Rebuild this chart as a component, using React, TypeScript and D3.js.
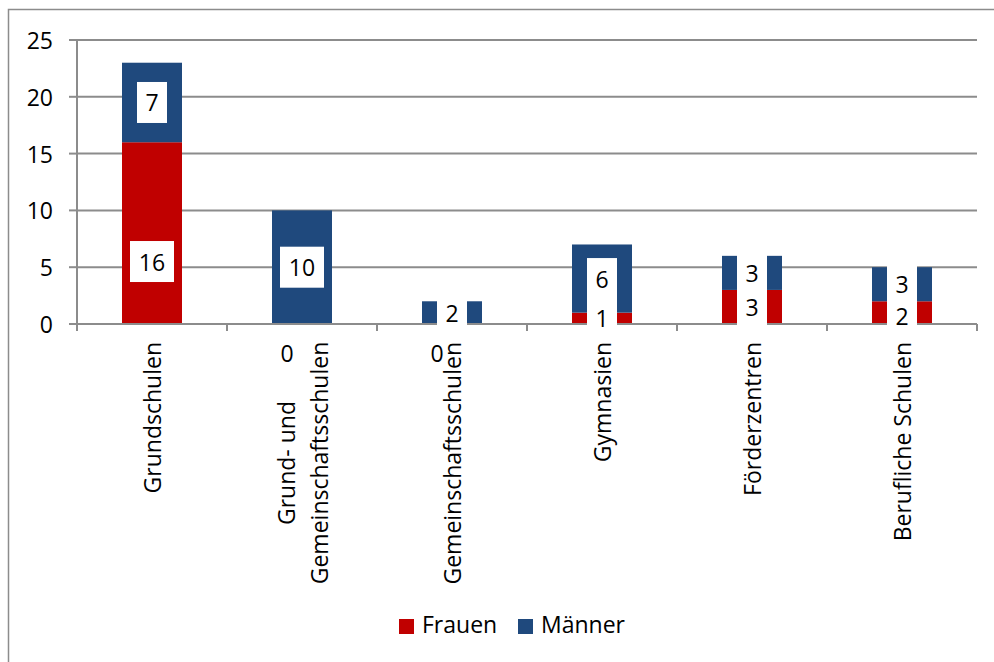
import React from "react";
import * as d3 from "d3";

const categories = [
  "Grundschulen",
  "Grund- und\nGemeinschaftsschulen",
  "Gemeinschaftsschulen",
  "Gymnasien",
  "Förderzentren",
  "Berufliche Schulen",
];
const frauen = [16, 0, 0, 1, 3, 2];
const maenner = [7, 10, 2, 6, 3, 3];
// where each data label sits, in value units (null = middle of the segment)
const frauenLabelAt: (number | null)[] = [5.5, null, null, null, null, 0.7];
const maennerLabelAt: (number | null)[] = [null, null, null, null, null, 3.5];
const yTicks = [0, 5, 10, 15, 20, 25];
const seriesNames = ["Frauen", "Männer"];
const seriesColors = ["#C00000", "#1F497D"];

const W = 994;
const H = 662;
const FONT = "'Open Sans', 'Noto Sans', sans-serif";
const FS = 23;

export default function App() {
  const x = d3
    .scaleBand<string>()
    .domain(categories)
    .range([77, 977])
    .paddingInner(0.6)
    .paddingOuter(0.3);
  const y = d3.scaleLinear().domain([0, 25]).range([324, 40]);
  const step = x.step();
  const left = 77;
  const right = 977;
  const grid = "#8c8c8c";

  const stack = d3
    .stack<any>()
    .keys(["f", "m"])(categories.map((c, i) => ({ c, f: frauen[i], m: maenner[i] })));

  const labels: { cx: number; v: number; at: number }[] = [];
  const zeroLabels: { cx: number }[] = [];
  categories.forEach((c, i) => {
    const cx = (x(c) as number) + x.bandwidth() / 2;
    [frauen, maenner].forEach((arr, s) => {
      const v = arr[i];
      const base = s === 0 ? 0 : frauen[i];
      const over = (s === 0 ? frauenLabelAt : maennerLabelAt)[i];
      if (v === 0) {
        zeroLabels.push({ cx });
      } else {
        labels.push({ cx, v, at: over != null ? over : base + v / 2 });
      }
    });
  });

  return (
    <svg
      width={W}
      height={H}
      style={{ position: "absolute", left: 0, top: 0, background: "#fff" }}
      fontFamily={FONT}
    >
      <rect x={0} y={0} width={W} height={H} fill="#fff" />
      {/* chart border */}
      <path d={`M8.5,${H} V9.5 H${W}`} fill="none" stroke="#8c8c8c" strokeWidth={1.5} />
      {/* gridlines */}
      {yTicks
        .filter((t) => t > 0)
        .map((t) => (
          <line key={t} x1={left} x2={right} y1={y(t)} y2={y(t)} stroke={grid} strokeWidth={2} />
        ))}
      {/* bars */}
      {stack.map((layer, s) =>
        layer.map((d, i) => (
          <rect
            key={`${s}-${i}`}
            x={x(categories[i]) as number}
            width={x.bandwidth()}
            y={y(d[1])}
            height={Math.max(0, y(d[0]) - y(d[1]))}
            fill={seriesColors[s]}
          />
        ))
      )}
      {/* axes */}
      <line x1={left} x2={left} y1={y(25)} y2={y(0) + 7} stroke={grid} strokeWidth={2} />
      <line x1={left} x2={right} y1={y(0)} y2={y(0)} stroke={grid} strokeWidth={2} />
      {yTicks.map((t) => (
        <line key={t} x1={left - 8} x2={left} y1={y(t)} y2={y(t)} stroke={grid} strokeWidth={2} />
      ))}
      {d3.range(categories.length + 1).map((k) => (
        <line
          key={k}
          x1={left + k * step}
          x2={left + k * step}
          y1={y(0)}
          y2={y(0) + 7}
          stroke={grid}
          strokeWidth={2}
        />
      ))}
      {yTicks.map((t) => (
        <text
          key={t}
          x={53}
          y={y(t)}
          textAnchor="end"
          dominantBaseline="central"
          fontSize={FS}
          fill="#000"
        >
          {t}
        </text>
      ))}
      {/* data labels */}
      {labels.map((l, i) => {
        const txt = String(l.v);
        const bw = txt.length === 1 ? 30 : 44;
        const cy = y(l.at);
        return (
          <g key={i}>
            <rect x={l.cx - bw / 2} y={cy - 20.5} width={bw} height={41} fill="#fff" />
            <text
              x={l.cx}
              y={cy}
              textAnchor="middle"
              dominantBaseline="central"
              fontSize={FS}
              fill="#000"
            >
              {txt}
            </text>
          </g>
        );
      })}
      {/* category labels */}
      {categories.map((c) => {
        const cx = (x(c) as number) + x.bandwidth() / 2;
        const lines = c.split("\n");
        const n = lines.length;
        return (
          <g key={c}>
            {lines.map((ln, j) => {
              const bx = cx + 9 + (j - (n - 1) / 2) * 33;
              return (
                <text
                  key={j}
                  transform={`translate(${bx},342) rotate(-90)`}
                  textAnchor={n > 1 ? "middle" : "end"}
                  dx={n > 1 ? -121 : 0}
                  fontSize={FS}
                  fill="#000"
                >
                  {ln}
                </text>
              );
            })}
          </g>
        );
      })}
      {zeroLabels.map((z, i) => (
        <text
          key={i}
          x={z.cx - 15}
          y={353}
          textAnchor="middle"
          dominantBaseline="central"
          fontSize={FS}
          fill="#000"
        >
          0
        </text>
      ))}
      {/* legend */}
      {seriesNames.map((nm, i) => {
        const lx = 399 + i * 119;
        return (
          <g key={nm}>
            <rect x={lx} y={619} width={15} height={15} fill={seriesColors[i]} />
            <text x={lx + 23} y={633} fontSize={FS} fill="#000">
              {nm}
            </text>
          </g>
        );
      })}
    </svg>
  );
}
